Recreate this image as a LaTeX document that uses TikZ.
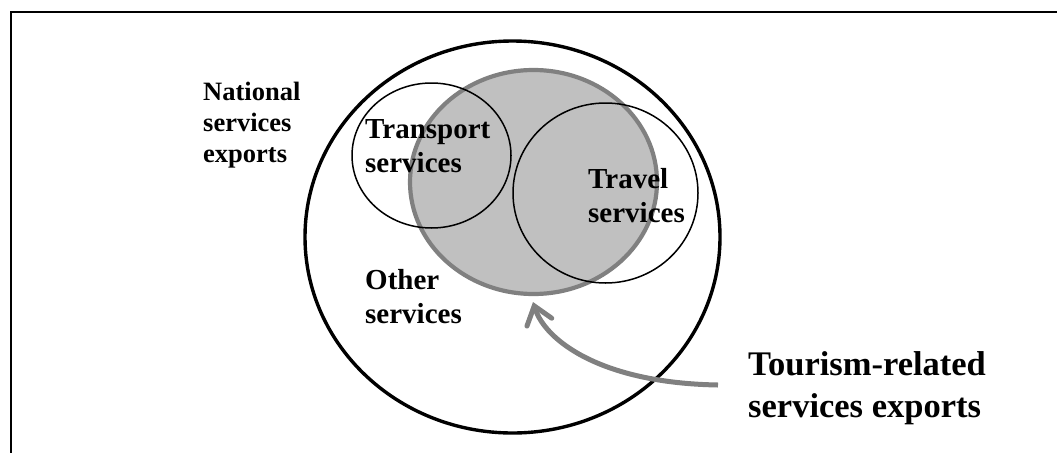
\documentclass[tikz,border=0pt]{standalone}
\usepackage{fontspec}
\setmainfont{Liberation Serif}
\usetikzlibrary{arrows.meta}
\definecolor{setfill}{HTML}{C0C0C0}
\definecolor{setline}{HTML}{808080}
\begin{document}
\begin{tikzpicture}[x=1pt,y=-1pt,
  frameline/.style={line width=2.4pt},
  outerset/.style={draw=black,line width=3.4pt},
  tourset/.style={draw=setline,fill=setfill,line width=4.2pt},
  innerset/.style={draw=black,line width=1.5pt},
  lbl/.style={inner sep=0pt,anchor=base west,align=left,font=\bfseries\fontsize{29}{34}\selectfont},
  smalllbl/.style={lbl,font=\bfseries\fontsize{26.5}{31}\selectfont},
  biglbl/.style={lbl,font=\bfseries\fontsize{34.5}{42}\selectfont},
  pointer/.style={draw=setline,line width=5pt,-{Straight Barb[length=17pt,width=26pt,line cap=round]}}]
\useasboundingbox (0,0) rectangle (1057,453);
% frame
\coordinate (fTR) at (1057,12);
\coordinate (fTL) at (11,12);
\coordinate (fBL) at (11,453);
\draw[frameline] (fTR) -- (fTL) -- (fBL);
% sets
\draw[outerset] (512.5,237) ellipse [x radius=207.5,y radius=196];
\draw[tourset] (533.5,182) ellipse [x radius=123.5,y radius=112];
\draw[innerset] (431.5,155.5) ellipse [x radius=79.5,y radius=72.5];
\draw[innerset] (605.5,193) ellipse [x radius=92.5,y radius=90];
% labels (anchored at the baseline of the last line)
\node[smalllbl] (national) at (203,162) {National\\services\\exports};
\node[lbl] (transport) at (365,172) {Transport\\services};
\node[lbl] (travel) at (588,222) {Travel\\services};
\node[lbl] (other) at (365,323) {Other\\services};
\node[biglbl] (tourism) at (748,417) {Tourism-related\\services exports};
% arrow
\coordinate (atail) at (718,385);
\coordinate (atip) at (533,302);
\draw[pointer] (atail) .. controls (600,383) and (545,340) .. (atip);
\end{tikzpicture}
\end{document}
